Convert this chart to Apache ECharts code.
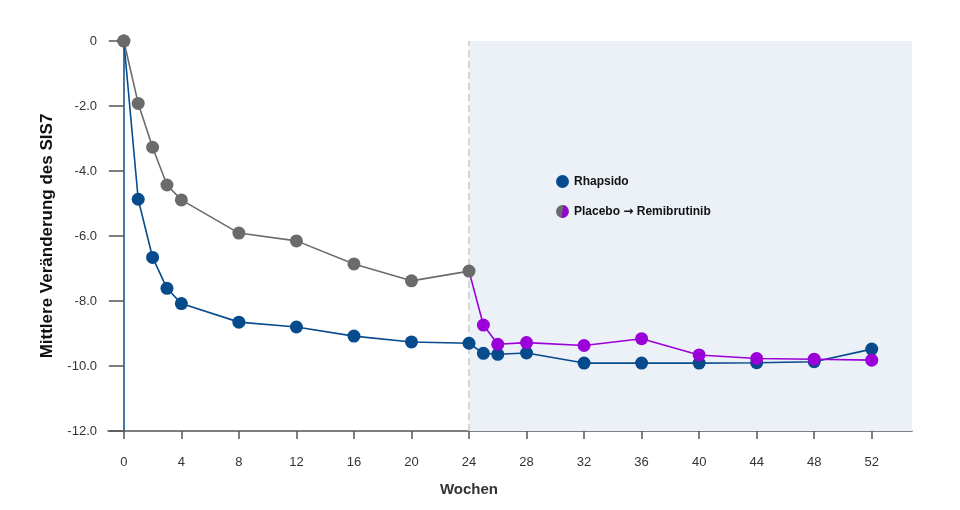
<!DOCTYPE html>
<html>
<head>
<meta charset="utf-8">
<script src="https://cdn.jsdelivr.net/npm/echarts@6/dist/echarts.min.js"></script>
<style>
  html, body { margin: 0; padding: 0; background: #fff; }
  #chart { width: 960px; height: 510px; }
</style>
</head>
<body>
<div id="chart"></div>
<script>
// weeks and values
const xTicks = [0, 4, 8, 12, 16, 20, 24, 28, 32, 36, 40, 44, 48, 52];

const rhapsidoWeeks = [0, 1, 2, 3, 4, 8, 12, 16, 20, 24, 25, 26, 28, 32, 36, 40, 44, 48, 52];
const rhapsidoValues = [0, -4.87, -6.66, -7.61, -8.08, -8.65, -8.8, -9.08, -9.26, -9.3, -9.61, -9.64, -9.6, -9.91, -9.91, -9.91, -9.9, -9.87, -9.48];

const placeboWeeks = [0, 1, 2, 3, 4, 8, 12, 16, 20, 24];
const placeboValues = [0, -1.92, -3.27, -4.43, -4.89, -5.91, -6.15, -6.86, -7.38, -7.08];

const switchWeeks = [24, 25, 26, 28, 32, 36, 40, 44, 48, 52];
const switchValues = [-7.08, -8.74, -9.33, -9.28, -9.37, -9.16, -9.66, -9.77, -9.79, -9.82];

const switchWeek = 24;

const BLUE = "#064b8c";
const GRAY = "#6b6b6b";
const PURPLE = "#9b00d8";

const pair = (xs, ys) => xs.map((x, i) => [x, ys[i]]);

// half grey / half purple legend dot
const mixIcon = "image://data:image/svg+xml;utf8," + encodeURIComponent(
  '<svg xmlns="http://www.w3.org/2000/svg" width="24" height="24" viewBox="0 0 24 24">' +
  '<circle cx="12" cy="12" r="12" fill="' + GRAY + '"/>' +
  '<path d="M14 0.2 A12 12 0 0 1 10 23.8 Z" fill="' + PURPLE + '"/>' +
  '</svg>'
);

const chart = echarts.init(document.getElementById("chart"));

const option = {
  animation: false,
  textStyle: { fontFamily: "Liberation Sans, Arial, sans-serif" },
  grid: { left: 108, right: 48, top: 41, bottom: 79, containLabel: false, outerBoundsMode: "none" },
  legend: {
    orient: "vertical",
    left: 551,
    top: 170,
    itemGap: 17,
    itemWidth: 13,
    itemHeight: 13,
    formatter: name => name.replace("→", "{a|→}"),
    textStyle: {
      fontSize: 12, fontWeight: "bold", color: "#111",
      rich: { a: { fontFamily: "DejaVu Sans", fontSize: 12, fontWeight: "bold", color: "#111" } }
    },
    data: [
      { name: "Rhapsido", icon: "circle" },
      { name: "Placebo → Remibrutinib", icon: mixIcon }
    ]
  },
  graphic: [{
    type: "text",
    left: 487,
    top: 61,
    style: {
      text: "Wechsel von Placebo auf Rhapsido\nin Woche 24",
      fill: "#5ea6f2",
      fontSize: 18,
      lineHeight: 23,
      fontFamily: "Liberation Sans, Arial, sans-serif"
    }
  }],
  xAxis: {
    type: "value",
    min: -1.1,
    max: 54.8,
    name: "Wochen",
    nameLocation: "middle",
    nameGap: 51,
    nameTextStyle: { fontSize: 15, fontWeight: "bold", color: "#333", padding: [0, 82, 0, 0] },
    splitLine: { show: false },
    axisLine: { onZero: false, lineStyle: { color: "#555", width: 1.5 } },
    axisTick: { customValues: xTicks, length: 8, lineStyle: { color: "#555", width: 1.5 } },
    axisLabel: { customValues: xTicks, margin: 25, fontSize: 13, color: "#333" }
  },
  yAxis: {
    type: "value",
    min: -12,
    max: 0,
    interval: 2,
    name: "Mittlere Veränderung des SIS7",
    nameLocation: "middle",
    nameGap: 52,
    nameTextStyle: { fontSize: 17, fontWeight: "bold", color: "#111" },
    splitLine: { show: false },
    axisLine: { onZero: true, lineStyle: { color: BLUE, width: 1.5 } },
    axisTick: { length: 15, lineStyle: { color: "#555", width: 1.5 } },
    axisLabel: {
      margin: 11,
      fontSize: 13,
      color: "#333",
      formatter: v => (v === 0 ? "0" : v.toFixed(1))
    }
  },
  series: [
    {
      // background: switch period shading and dashed line at week 24
      name: "switch",
      type: "line",
      data: [],
      z: 1,
      silent: true,
      markArea: {
        silent: true,
        z: 1,
        itemStyle: { color: "#ecf1f8" },
        data: [[{ xAxis: switchWeek, yAxis: 0 }, { xAxis: 54.8, yAxis: -12 }]]
      },
      markLine: {
        silent: true,
        z: 2,
        symbol: "none",
        label: { show: false },
        lineStyle: { color: "#d6d6d6", width: 2, type: [7, 4] },
        data: [{ xAxis: switchWeek }]
      }
    },
    {
      name: "Rhapsido",
      type: "line",
      data: pair(rhapsidoWeeks, rhapsidoValues),
      symbol: "circle",
      symbolSize: 13,
      z: 3,
      lineStyle: { color: BLUE, width: 1.6 },
      itemStyle: { color: BLUE }
    },
    {
      name: "Remibrutinib ab Woche 24",
      type: "line",
      data: switchWeeks.map((x, i) => i === 0
        ? { value: [x, switchValues[i]], symbol: "none" }
        : [x, switchValues[i]]),
      symbol: "circle",
      symbolSize: 13,
      z: 4,
      lineStyle: { color: PURPLE, width: 1.6 },
      itemStyle: { color: PURPLE }
    },
    {
      name: "Placebo → Remibrutinib",
      type: "line",
      data: pair(placeboWeeks, placeboValues),
      symbol: "circle",
      symbolSize: 13,
      z: 5,
      lineStyle: { color: GRAY, width: 1.6 },
      itemStyle: { color: GRAY }
    }
  ]
};

chart.setOption(option);
</script>
</body>
</html>
